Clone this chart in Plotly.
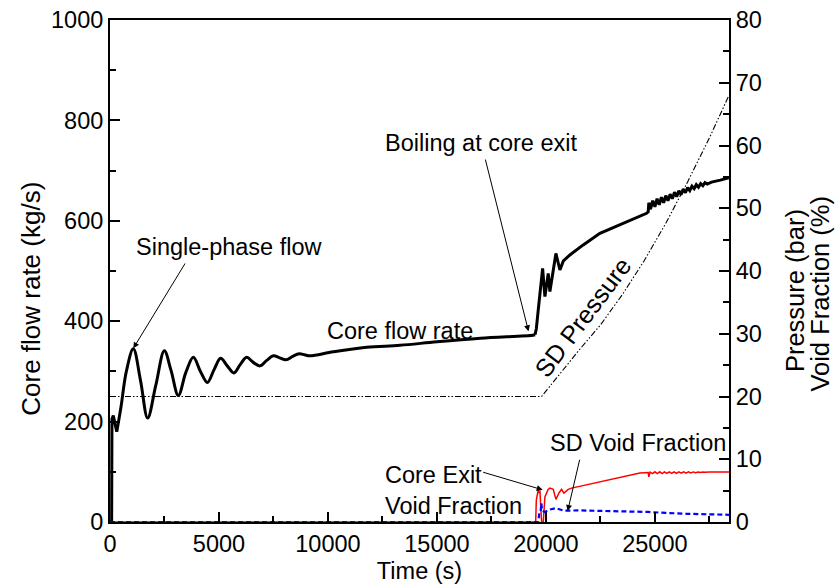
import plotly.graph_objects as go

# ---- Data ----
# Core flow rate, start-up jump (kg/s)
flow_start_t = [0, 75, 90, 150, 310]
flow_start_v = [0, 0, 205, 212, 180]

# Core flow rate, single-phase oscillations (smooth)
flow_sp_t = [310, 500, 750, 1070, 1400, 1728, 2100, 2493, 2800, 3135, 3480, 3823, 4150, 4465,
             4770, 5076, 5380, 5688, 5980, 6269, 6570, 6881, 7190, 7492, 7780, 8073, 8380,
             8685, 8930, 9174, 10245, 11774, 13303, 15000, 17000, 19400, 19500]
flow_sp_v = [180, 228, 300, 345, 282, 207, 272, 341, 302, 252, 298, 328, 300, 278,
             303, 326, 311, 297, 314, 328, 318, 311, 322, 331, 327, 323, 330,
             335, 333, 331, 339, 348, 352, 359, 366, 372, 373]

# Core flow rate, boiling region and later
flow_b_t = [19500, 19560, 19647, 19849, 19954, 20106, 20183, 20459, 20642, 20800, 21101,
            21711, 22477, 23394, 24000, 24618, 24694, 24720,
            24800, 24900, 25000, 25100, 25200, 25300, 25400, 25500, 25600, 25700, 25800,
            25900, 26000, 26100, 26200, 26300, 26400, 26500, 26600, 26700, 26800, 26900,
            27000, 27100, 27200, 27300, 27400, 27600, 28000, 28400]
flow_b_v = [373, 385, 422, 505, 449, 495, 459, 535, 502, 520, 532,
            552, 575, 592, 604, 615, 618, 636,
            623, 640, 628, 644, 632, 647, 636, 650, 640, 653, 644,
            657, 648, 660, 652, 663, 656, 666, 660, 669, 664, 672,
            667, 674, 670, 676, 673, 677, 681, 686]

# SD pressure (bar)
pres_t = [0, 19800, 20500, 21500, 22500, 23500, 24500, 25500, 26500, 27500, 28400]
pres_v = [20, 20, 23.0, 27.3, 31.4, 36.2, 41.6, 47.6, 54.2, 61.2, 68.0]

# Core exit void fraction (%)
cevf_t = [0, 19530, 19560, 19648, 19690, 19725, 19770, 19801, 19878, 19954, 20100, 20183,
          20336, 20459, 20612, 20719, 20826, 21024, 21177, 22477, 23500, 24312, 24694, 24720,
          24780, 24890, 25000, 25110, 25220, 25330, 25440, 25550, 25660, 25770, 25880,
          25990, 26100, 26210, 26320, 26430, 26540, 26650, 26760, 26870, 26980, 27090,
          27200, 27300, 27500, 28400]
cevf_v = [0, 0, 3.5, 5.1, 4.6, 5.0, 2.0, 0, 0, 4.0, 5.2, 5.4,
          5.2, 3.6, 4.7, 5.2, 4.6, 5.2, 5.4, 6.4, 7.2, 7.8, 7.9, 7.2,
          7.95, 7.7, 8.0, 7.72, 8.0, 7.72, 8.0, 7.74, 8.0, 7.74, 8.0,
          7.76, 8.0, 7.78, 8.0, 7.8, 8.0, 7.82, 7.98, 7.85, 7.98, 7.88,
          7.97, 7.92, 7.95, 7.95]

# SD void fraction (%)
sdvf_t = [0, 19647, 19700, 19755, 19790, 19830, 19954, 20200, 20459, 20700, 20826, 21500,
          22477, 24694, 25500, 26500, 28400]
sdvf_v = [0, 0, 1.5, 1.6, 3.0, 1.8, 1.6, 2.0, 2.2, 2.0, 1.8, 1.85,
          1.8, 1.6, 1.45, 1.3, 1.15]

FONT = "Liberation Sans, Arial, sans-serif"
FS = 23.5

fig = go.Figure()

# pressure & void fractions on right axis
fig.add_trace(go.Scatter(x=pres_t, y=pres_v, yaxis="y2", mode="lines",
                         line=dict(color="black", width=1.1, dash="6px,2px,1.5px,2px,1.5px,2px")))
fig.add_trace(go.Scatter(x=cevf_t, y=cevf_v, yaxis="y2", mode="lines",
                         line=dict(color="red", width=1.5)))
fig.add_trace(go.Scatter(x=sdvf_t, y=sdvf_v, yaxis="y2", mode="lines",
                         line=dict(color="blue", width=2.2, dash="5px,3px")))

# core flow rate on left axis
fig.add_trace(go.Scatter(x=flow_start_t, y=flow_start_v, mode="lines",
                         line=dict(color="black", width=3)))
fig.add_trace(go.Scatter(x=flow_sp_t, y=flow_sp_v, mode="lines",
                         line=dict(color="black", width=3, shape="spline", smoothing=1.0)))
fig.add_trace(go.Scatter(x=flow_b_t, y=flow_b_v, mode="lines",
                         line=dict(color="black", width=3)))

tf = dict(family=FONT, size=FS, color="black")
tfl = dict(family=FONT, size=26, color="black")
tfr = dict(family=FONT, size=25.5, color="black")

annotations = [
    # text labels
    dict(x=5460, y=548, text="Single-phase flow", showarrow=False, font=tf),
    dict(x=17022, y=755, text="Boiling at core exit", showarrow=False, font=tf),
    dict(x=13305, y=380, text="Core flow rate", showarrow=False, font=tf),
    dict(x=21701, y=408, text="SD Pressure", showarrow=False,
         font=dict(family=FONT, size=25, color="black"), textangle=-53),
    dict(x=12525, y=63, text="Core Exit<br>Void Fraction", showarrow=False, font=tf,
         xanchor="left", align="left"),
    dict(x=24225, y=157, text="SD Void Fraction", showarrow=False, font=tf),
    # arrows
    dict(x=1070, y=346, ax=3487, ay=518, text="", showarrow=True),
    dict(x=19201, y=380, ax=17205, ay=725, text="", showarrow=True),
    dict(x=19852, y=64, ax=17053, ay=100, text="", showarrow=True),
    dict(x=20999, y=22, ax=21564, ay=127, text="", showarrow=True),
]
for a in annotations:
    a.update(xref="x", yref="y")
    if a.get("showarrow"):
        a.update(axref="x", ayref="y", arrowhead=2, arrowsize=1.2, arrowwidth=1,
                 arrowcolor="black", standoff=0, startstandoff=0)

# axis titles (as rotated labels)
annotations += [
    dict(xref="paper", yref="paper", x=-0.129, y=0.445, text="Core flow rate (kg/s)",
         textangle=-90, showarrow=False, font=tfl, xanchor="center", yanchor="middle"),
    dict(xref="paper", yref="paper", x=1.1066, y=0.462, text="Pressure (bar)",
         textangle=-90, showarrow=False, font=tfr, xanchor="center", yanchor="middle"),
    dict(xref="paper", yref="paper", x=1.147, y=0.455, text="Void Fraction (%)",
         textangle=-90, showarrow=False, font=tfr, xanchor="center", yanchor="middle"),
]

axis_common = dict(showline=True, linecolor="black", linewidth=2, ticks="inside",
                   tickcolor="black", tickwidth=2, ticklen=10, showgrid=False,
                   zeroline=False, tickfont=tf, tickformat="d", automargin=False)

fig.update_layout(
    width=839, height=588,
    margin=dict(l=110, r=110, t=20, b=66),
    paper_bgcolor="white", plot_bgcolor="white",
    showlegend=False,
    font=tf,
    xaxis=dict(range=[0, 28400], tick0=0, dtick=5000, mirror=True,
               minor=dict(dtick=2500, ticks="inside", ticklen=6, tickcolor="black", tickwidth=2),
               title=dict(text="Time (s)", font=tf, standoff=6), **axis_common),
    yaxis=dict(range=[0, 1000], tick0=0, dtick=200,
               minor=dict(dtick=100, ticks="inside", ticklen=6, tickcolor="black", tickwidth=2),
               **axis_common),
    yaxis2=dict(range=[0, 80], tick0=0, dtick=10, overlaying="y", side="right",
                minor=dict(dtick=5, ticks="inside", ticklen=6, tickcolor="black", tickwidth=2),
                **axis_common),
    annotations=annotations,
)

fig.write_html("out.html")
